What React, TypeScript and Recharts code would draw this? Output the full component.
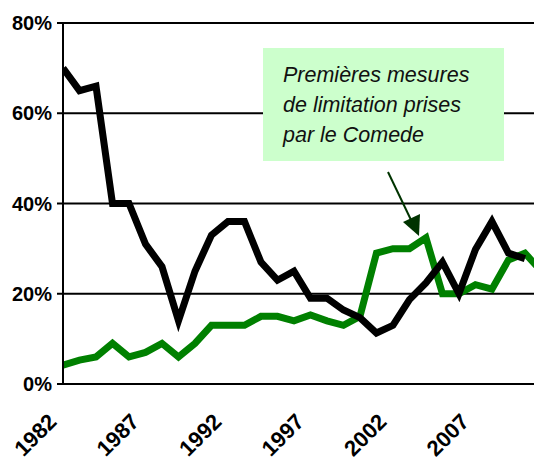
import { LineChart, Line, XAxis, YAxis, CartesianGrid } from 'recharts';

const annees = [
  1982, 1983, 1984, 1985, 1986, 1987, 1988, 1989, 1990, 1991,
  1992, 1993, 1994, 1995, 1996, 1997, 1998, 1999, 2000, 2001,
  2002, 2003, 2004, 2005, 2006, 2007, 2008, 2009, 2010, 2011,
];
const serieNoire = [
  70, 65, 66, 40, 40, 31, 26, 14, 25, 33,
  36, 36, 27, 23, 25, 19, 19, 16.4, 14.7, 11.3,
  13, 18.7, 22.4, 27, 20, 29.8, 36, 29, 27.8, null,
];
const serieVerte = [
  4.2, 5.3, 6, 9, 6, 7, 9, 6, 9, 13,
  13, 13, 15, 15, 14, 15.3, 14, 13, 15, 29,
  30, 30, 32.4, 20, 20, 22, 21, 27.5, 29, 25,
];
const anneesAffichees = [1982, 1987, 1992, 1997, 2002, 2007];
const graduations = [0, 20, 40, 60, 80];

const data = annees.map((a, i) => ({ annee: a, noir: serieNoire[i], vert: serieVerte[i] }));

const FONT = '"Liberation Sans", Arial, sans-serif';

const XTick = ({ x, y, payload }: any) => (
  <g transform={`translate(${x - 5},${y + 31}) rotate(-45)`}>
    <text x={0} y={0} textAnchor="end" fill="#000" fontFamily={FONT} fontWeight={700} fontSize={22}>
      {payload.value}
    </text>
  </g>
);

export default function App() {
  return (
    <div style={{ position: 'relative', width: 534, height: 457, background: '#fff', overflow: 'hidden' }}>
      <style>{'body{margin:0;overflow:hidden}'}</style>
      <LineChart width={534} height={457} data={data} margin={{ top: 23, right: 0, left: 0, bottom: 0 }}>
        <CartesianGrid vertical={false} stroke="#000" strokeWidth={2} />
        <XAxis
          dataKey="annee" type="number" domain={[1982, 2010.55]} allowDataOverflow
          ticks={anneesAffichees} interval={0} height={73}
          tickLine={false} axisLine={{ stroke: '#000', strokeWidth: 2 }}
          tick={<XTick />}
        />
        <YAxis
          domain={[0, 80]} ticks={graduations} width={63} tickSize={6} tickMargin={5}
          tickFormatter={(v: number) => `${v}%`}
          tickLine={{ stroke: '#000', strokeWidth: 2 }}
          axisLine={{ stroke: '#000', strokeWidth: 2 }}
          tick={{ fill: '#000', fontFamily: FONT, fontWeight: 700, fontSize: 20 }}
        />
        <Line dataKey="vert" stroke="#008000" strokeWidth={7} dot={false} isAnimationActive={false} />
        <Line dataKey="noir" stroke="#000" strokeWidth={7} dot={false} isAnimationActive={false} />
      </LineChart>

      <div style={{
        position: 'absolute', left: 263, top: 48, width: 241, height: 113,
        background: '#ccffcc', boxSizing: 'border-box', padding: '12px 0 0 20px',
        fontFamily: FONT, fontStyle: 'italic', fontSize: 21.5, lineHeight: '30px', color: '#111',
      }}>
        Premières mesures<br />de limitation prises<br />par le Comede
      </div>

      <svg width={534} height={457} style={{ position: 'absolute', left: 0, top: 0, pointerEvents: 'none' }}>
        <line x1={388} y1={172} x2={412} y2={222} stroke="#003300" strokeWidth={2} />
        <polygon points="403,222 420,214 419,236" fill="#003300" />
      </svg>
    </div>
  );
}
